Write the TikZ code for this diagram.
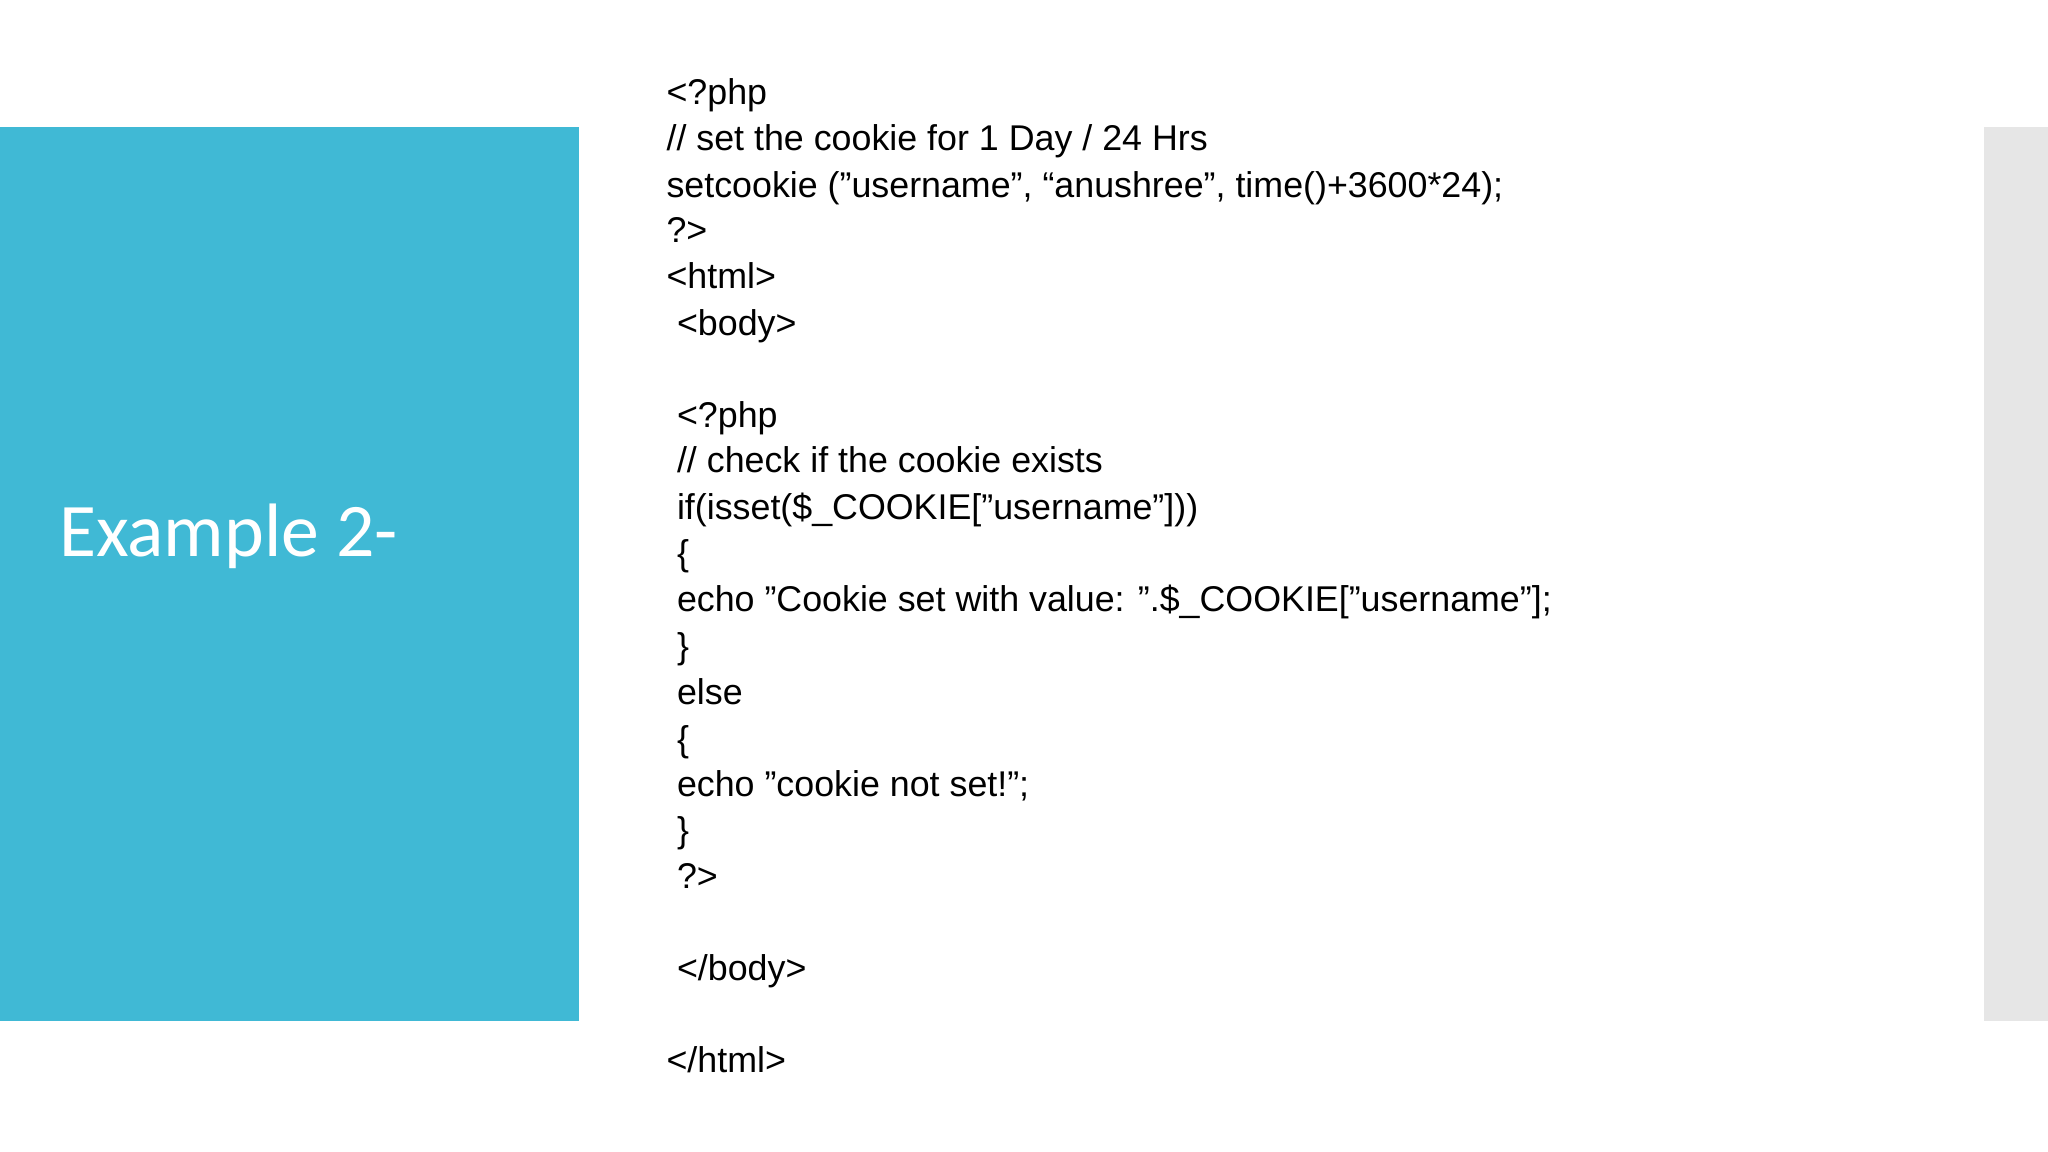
\documentclass[tikz,border=0pt]{standalone}
\usepackage{fontspec}
\setmainfont{Liberation Sans}
\newfontfamily\titlefont{Carlito}
\definecolor{slideblue}{HTML}{40B9D5}
\definecolor{slidegrey}{HTML}{E6E6E6}
\begin{document}
\begin{tikzpicture}[x=0.02cm,y=-0.02cm,
  codeline/.style={anchor=base west,inner sep=0pt,font=\fontsize{15.6}{18}\selectfont}]
\useasboundingbox (0,0) rectangle (1568,882);
\fill[white] (0,0) rectangle (1568,882);
\fill[slideblue] (0,97) rectangle (443,782);
\fill[slidegrey] (1519,97) rectangle (1568,782);
\node[anchor=base west,inner sep=0pt,text=white,font=\titlefont\fontsize{33}{38}\selectfont] (title) at (45,426) {Example 2-};
\node[codeline] (l1) at (510,80) {<?php};
\node[codeline] (l2) at (510,115) {// set the cookie for 1 Day / 24 Hrs};
\node[codeline] (l3) at (510,151) {setcookie ("username", “anushree", time()+3600*24);};
\node[codeline] (l4) at (510,186) {?>};
\node[codeline] (l5) at (510,221) {<html>};
\node[codeline] (l6) at (518,257) {<body>};
\node[codeline] (l7) at (518,327) {<?php};
\node[codeline] (l8) at (518,362) {// check if the cookie exists};
\node[codeline] (l9) at (518,398) {if(isset(\$\_COOKIE["username"]))};
\node[codeline] (l10) at (518,433) {\{};
\node[codeline] (l11) at (518,468) {echo "Cookie set with value: ".\$\_COOKIE["username"];};
\node[codeline] (l12) at (518,504) {\}};
\node[codeline] (l13) at (518,539) {else};
\node[codeline] (l14) at (518,575) {\{};
\node[codeline] (l15) at (518,610) {echo "cookie not set!";};
\node[codeline] (l16) at (518,645) {\}};
\node[codeline] (l17) at (518,680) {?>};
\node[codeline] (l18) at (518,751) {</body>};
\node[codeline] (l19) at (510,821) {</html>};
\end{tikzpicture}
\end{document}
